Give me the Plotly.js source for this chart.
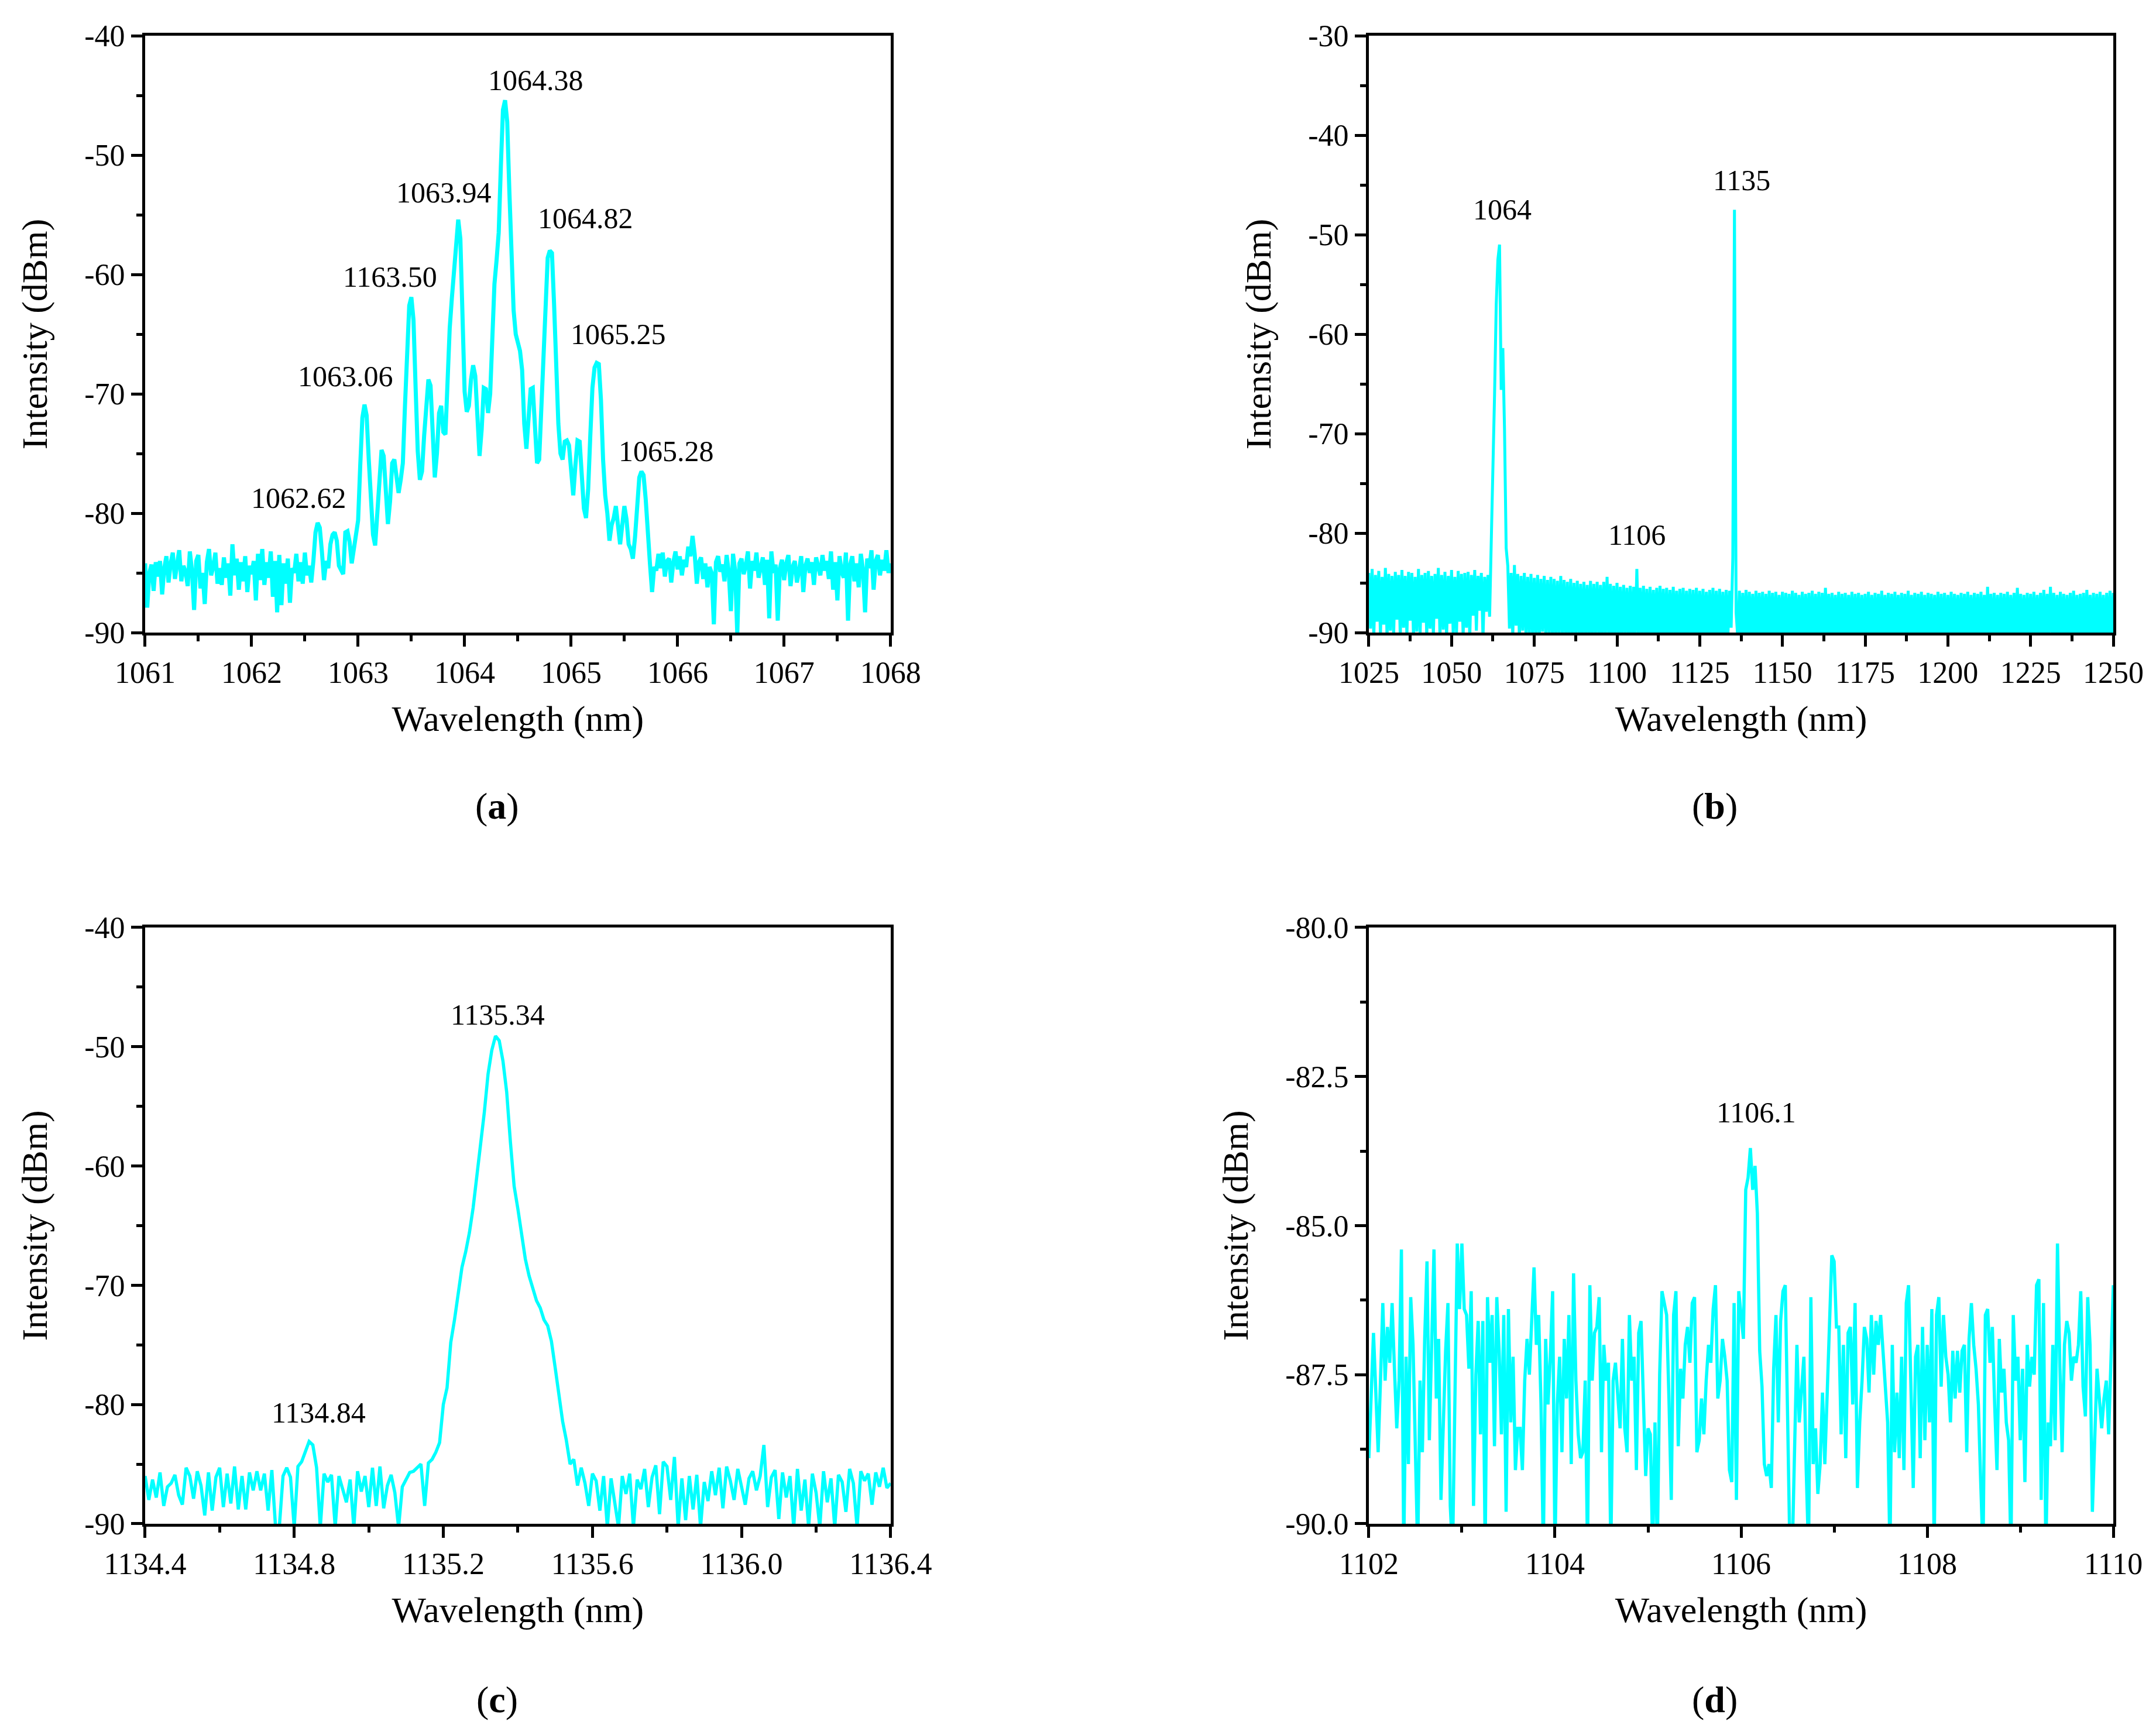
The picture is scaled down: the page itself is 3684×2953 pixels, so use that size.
<!DOCTYPE html>
<html>
<head>
<meta charset="utf-8">
<script src="https://cdn.plot.ly/plotly-3.0.1.min.js"></script>
<style>html,body{margin:0;padding:0;background:#fff;}#chart{width:3684px;height:2953px;}</style>
</head>
<body>
<div id="chart"></div>
<script>
// ---------------- DATA ----------------
// (a) 1061–1068 nm, sampled every 0.02 nm
const aStart = 1061.0, aStep = 0.02;
const aIntensity = [
-84.2,-87.9,-85.0,-84.3,-86.5,-84.1,-85.3,-84.0,-86.8,-84.6,-83.6,-85.8,-84.2,-83.3,-85.5,-84.0,-83.1,-85.7,-84.4,-84.9,
-86.1,-83.2,-84.8,-88.1,-84.0,-83.5,-86.3,-85.0,-87.6,-84.1,-83.0,-85.2,-84.5,-83.3,-85.9,-84.6,-86.0,-83.7,-85.4,-84.2,
-86.9,-82.6,-85.2,-83.8,-86.4,-84.1,-85.7,-83.6,-86.6,-84.4,-85.1,-84.0,-87.3,-83.4,-85.6,-83.0,-86.0,-84.1,-85.4,-83.2,
-87.0,-84.0,-88.3,-83.5,-87.7,-84.2,-85.9,-83.8,-87.5,-84.6,-85.0,-83.4,-85.7,-84.1,-85.9,-83.3,-85.2,-84.4,-85.8,
-84.0,-81.6,-80.8,-81.2,-83.2,-85.6,-84.0,-84.6,-82.6,-81.8,-81.6,-82.3,-84.4,-84.8,-85.1,-81.6,-81.5,-82.4,-84.2,-83.0,
-81.9,-80.6,-76.0,-72.0,-70.9,-71.8,-75.5,-79.5,-81.8,-82.7,-80.0,-76.6,-74.7,-75.2,-78.5,-80.9,-79.0,-75.8,-75.5,-77.0,
-78.3,-77.2,-75.8,-71.0,-66.0,-62.6,-61.9,-63.8,-69.5,-74.8,-77.2,-76.5,-73.5,-70.5,-68.8,-69.3,-73.5,-77.0,-75.0,-71.6,
-71.0,-73.2,-73.4,-68.5,-64.5,-62.0,-59.8,-56.6,-55.4,-57.0,-64.5,-69.8,-71.5,-71.0,-68.8,-67.6,-68.5,-72.8,-75.2,-73.0,
-69.5,-69.6,-71.6,-70.0,-64.0,-60.8,-58.8,-56.5,-51.0,-46.2,-45.4,-47.2,-53.0,-59.0,-63.0,-65.0,-65.6,-66.4,-68.0,-72.5,
-74.6,-72.0,-69.6,-69.5,-72.5,-75.8,-75.5,-71.0,-65.5,-61.2,-58.6,-58.0,-58.2,-62.5,-68.0,-72.5,-75.0,-75.5,-74.0,-73.9,
-74.3,-77.0,-78.5,-76.0,-73.9,-74.0,-76.5,-79.6,-80.4,-78.0,-73.5,-69.5,-67.8,-67.4,-67.5,-70.5,-75.5,-78.5,-80.0,-82.3,
-81.0,-80.4,-79.4,-80.8,-82.6,-81.0,-79.4,-80.5,-82.6,-83.0,-83.8,-82.0,-79.0,-77.0,-76.5,-76.8,-78.8,-82.0,-84.2,-86.6,
-84.5,
-84.8,-83.4,-84.6,-83.3,-85.3,-84.0,-83.8,-85.8,-84.1,-83.2,-84.7,-83.6,-85.2,-83.9,-84.5,-82.8,-83.6,-81.9,-83.4,-85.9,
-84.1,-83.7,-85.5,-84.2,-86.2,-84.5,-85.0,-89.3,-84.1,-83.6,-84.9,-84.3,-85.7,-83.5,-84.9,-88.2,-83.4,-84.8,-90.1,-84.2,
-83.8,-85.1,-84.4,-83.2,-86.3,-84.0,-84.8,-83.3,-85.4,-84.6,-83.7,-86.0,-83.9,-88.8,-83.2,-85.0,-84.3,-89.0,-84.6,-83.9,
-85.6,-84.2,-83.5,-86.1,-84.5,-84.0,-85.8,-84.8,-83.6,-86.6,-84.4,-83.8,-85.0,-84.1,-86.0,-83.7,-84.6,-85.2,-83.5,-84.8,
-84.0,-85.5,-83.2,-86.4,-84.1,-87.3,-83.6,-84.9,-85.4,-83.3,-89.0,-84.3,-83.6,-85.7,-84.2,-86.2,-83.4,-84.7,-88.3,-83.8,
-84.6,-83.1,-86.4,-84.0,-83.5,-85.2,-83.9,-84.8,-83.1,-85.0,-84.2
];

// (b) 1025–1250 nm, sampled every 0.5 nm
const bStart = 1025.0, bStep = 0.5;
const bIntensity = [
-84.0,-89.6,-83.6,-90.4,-84.2,-88.9,-83.8,-90.3,-84.4,-89.2,-83.5,-90.5,-84.1,-89.8,-84.3,-90.2,-83.9,-88.7,-84.2,-90.4,
-83.7,-89.5,-84.3,-90.3,-83.9,-88.8,-84.0,-90.5,-84.4,-89.9,-83.6,-90.2,-84.2,-89.0,-84.0,-90.4,-83.8,-89.6,-84.3,-90.3,
-84.1,-88.6,-83.5,-90.4,-84.2,-89.7,-83.9,-90.5,-84.3,-89.1,-83.7,-90.3,-84.4,-90.0,-83.8,-88.9,-84.1,-90.4,-84.0,-89.5,
-83.9,-90.5,-84.2,-88.3,-83.7,-89.8,-84.3,-87.8,-84.0,-90.6,-84.4,-87.9,-84.2,-88.4,-80.8,-74.0,-66.0,-57.0,-52.5,-51.0,
-65.6,-61.4,-69.5,-81.5,-83.3,-89.6,-84.0,-90.4,-83.2,-89.3,-84.1,-90.5,-84.3,-89.8,-84.0,-90.4,-84.4,-90.2,-84.1,-90.5,
-84.5,-90.3,-84.2,-90.6,-84.6,-89.9,-84.3,-90.5,-84.7,-90.2,-84.4,-90.6,-84.6,-90.4,-84.8,-90.5,-84.3,-90.3,-84.7,-90.6,
-84.9,-90.4,-84.6,-90.6,-85.0,-90.3,-84.8,-90.5,-85.1,-90.6,-84.9,-90.4,-85.2,-90.5,-84.8,-90.6,-85.1,-90.3,-84.9,-90.5,
-85.2,-90.6,-84.9,-90.4,-84.4,-90.5,-85.1,-90.6,-85.3,-90.4,-85.0,-90.5,-85.4,-90.6,-85.2,-90.3,-85.5,-90.6,-85.3,-90.5,
-85.4,-90.6,-83.6,-90.5,-85.5,-90.4,-85.3,-90.6,-85.6,-90.5,-85.4,-90.6,-85.7,-90.4,-85.5,-90.6,-85.3,-90.5,-85.6,-90.6,
-85.5,-90.5,-85.7,-90.6,-85.4,-90.4,-85.8,-90.6,-85.6,-90.5,-85.5,-90.6,-85.8,-90.4,-85.6,-90.6,-85.7,-90.5,-85.5,-90.6,
-85.8,-90.5,-85.6,-90.6,-85.9,-90.4,-85.7,-90.6,-85.5,-90.5,-85.8,-90.6,-85.6,-90.4,-85.9,-90.6,-85.7,-90.5,-85.8,-89.5,
-82.5,-47.5,-88.0,-90.5,-85.8,-90.6,-86.0,-90.4,-85.7,-90.6,-85.9,-90.5,-86.1,-90.6,-85.8,-90.4,-86.0,-90.6,-85.9,-90.5,
-86.1,-90.6,-85.8,-90.4,-86.0,-90.6,-85.9,-90.5,-86.2,-90.6,-85.9,-90.4,-86.0,-90.6,-86.1,-90.5,-85.8,-90.6,-86.0,-90.4,
-86.2,-90.6,-85.9,-90.5,-86.1,-90.6,-86.0,-90.4,-85.8,-90.6,-86.1,-90.5,-85.9,-90.6,-86.0,-90.4,-85.5,-90.6,-86.1,-90.5,
-86.0,-90.6,-86.2,-90.4,-85.9,-90.6,-86.1,-90.5,-86.0,-90.6,-86.2,-90.4,-85.9,-90.6,-86.1,-90.5,-86.0,-90.6,-86.2,-90.4,
-86.1,-90.6,-85.9,-90.5,-86.2,-90.6,-86.0,-90.4,-86.1,-90.6,-85.8,-90.5,-86.2,-90.6,-86.0,-90.4,-86.1,-90.6,-85.9,-90.5,
-86.2,-90.6,-86.0,-90.4,-86.1,-90.6,-85.8,-90.5,-86.2,-90.6,-86.0,-90.4,-86.1,-90.6,-85.9,-90.5,-86.2,-90.6,-86.0,-90.4,
-86.1,-90.6,-86.2,-90.5,-85.9,-90.6,-86.1,-90.4,-86.0,-90.6,-86.2,-90.5,-85.9,-90.6,-86.1,-90.4,-86.2,-90.6,-86.0,-90.5,
-86.1,-90.6,-85.9,-90.4,-86.2,-90.6,-86.0,-90.5,-86.1,-90.6,-85.9,-90.4,-86.2,-90.6,-85.4,-90.5,-86.1,-90.6,-86.0,-90.4,
-86.2,-90.6,-86.0,-90.5,-86.1,-90.6,-85.9,-90.4,-86.2,-90.6,-86.0,-90.5,-85.5,-90.6,-86.1,-90.4,-86.2,-90.6,-86.0,-90.5,
-86.1,-90.6,-85.9,-90.4,-86.2,-90.6,-86.0,-90.5,-85.7,-90.6,-86.1,-90.4,-85.4,-90.6,-86.0,-90.5,-86.2,-90.6,-85.9,-90.4,
-86.1,-90.6,-86.2,-90.5,-86.0,-90.6,-85.8,-90.4,-86.2,-90.6,-86.1,-90.5,-86.0,-90.6,-85.7,-90.4,-86.2,-90.6,-86.0,-90.5,
-86.1,-90.6,-85.9,-90.4,-86.2,-90.6,-86.0,-90.5,-85.8,-90.6,-86.0
];

// (c) 1134.4–1136.4 nm, sampled every 0.01 nm
const cStart = 1134.40, cStep = 0.01;
const cIntensity = [
-86.0,-88.0,-86.3,-87.8,-85.7,-88.5,-86.9,-86.6,-85.9,-87.6,
-88.4,-85.3,-86.0,-87.9,-85.6,-86.8,-89.3,-85.7,-88.9,-86.1,
-85.3,-88.6,-85.8,-88.3,-85.2,-88.8,-86.0,-88.8,-85.7,-87.2,
-85.6,-87.2,-85.8,-88.9,-85.5,-90.3,-90.3,-86.0,-85.3,-86.1,
-90.3,-85.2,-84.8,-84.0,-83.1,-83.4,-85.3,-90.3,-85.8,-86.5,
-85.9,-90.3,-86.0,-87.1,-88.2,-86.3,-90.3,-85.6,-87.3,-86.0,
-88.6,-85.3,-88.5,-85.2,-88.7,-86.8,-85.9,-87.4,-90.3,-86.9,
-86.3,-85.7,-85.6,-85.3,-85.0,-88.5,-84.9,-84.6,-84.0,-83.2,
-80.0,-78.6,-74.8,-72.9,-70.5,-68.5,-67.2,-65.6,-63.5,-61.0,
-58.4,-55.5,-52.3,-50.3,-49.1,-49.5,-51.2,-53.8,-58.0,-61.7,
-63.6,-65.9,-67.8,-69.2,-70.3,-71.3,-71.9,-72.9,-73.4,-74.7,
-76.9,-79.2,-81.4,-83.0,-85.0,-84.6,-86.8,-85.3,-86.6,-88.5,
-85.8,-86.4,-88.9,-86.0,-90.3,-86.2,-88.4,-90.3,-86.0,-87.5,
-85.8,-90.3,-86.3,-87.1,-85.4,-88.6,-86.1,-85.1,-89.2,-84.8,
-85.2,-88.0,-84.4,-90.3,-86.2,-89.7,-86.0,-88.8,-85.9,-90.3,
-86.5,-88.1,-85.6,-87.6,-85.3,-88.7,-85.2,-86.4,-88.0,-85.4,
-86.9,-88.4,-86.2,-85.6,-87.2,-86.0,-83.4,-88.6,-86.1,-85.5,
-89.6,-85.7,-87.8,-86.0,-90.3,-85.4,-88.9,-86.3,-90.3,-85.8,
-87.4,-90.3,-85.6,-88.2,-86.2,-90.3,-85.9,-86.5,-89.0,-85.4,
-86.6,-90.3,-85.6,-86.4,-85.8,-88.4,-85.7,-86.9,-85.3,-87.0,
-86.6
];

// (d) 1102–1110 nm, sampled every 0.025 nm
const dStart = 1102.0, dStep = 0.025;
const dIntensity = [
-88.9,-87.7,-86.8,-87.8,-88.8,-87.6,-86.3,-87.6,-86.7,-87.3,-86.3,-87.4,-88.4,-87.6,-85.4,-90.5,-87.2,-89.0,-86.2,-87.0,
-89.3,-90.5,-87.6,-88.8,-86.9,-85.6,-88.6,-87.2,-85.4,-87.9,-86.9,-89.6,-88.2,-87.1,-86.3,-89.7,-90.5,-87.6,-85.3,-86.4,
-85.3,-86.4,-86.5,-87.4,-86.1,-89.7,-87.5,-86.6,-88.5,-86.6,-90.5,-86.2,-87.3,-86.5,-88.7,-86.2,-87.1,-88.5,-86.5,-89.8,
-86.4,-88.3,-87.2,-89.1,-88.4,-88.4,-89.1,-87.6,-86.9,-87.5,-86.7,-85.7,-87.0,-86.5,-88.0,-90.5,-86.9,-88.0,-87.2,-86.1,
-90.5,-88.0,-87.2,-88.8,-86.9,-87.9,-86.5,-89.0,-85.8,-87.6,-88.5,-88.9,-88.8,-87.6,-90.5,-86.0,-87.6,-86.8,-86.7,-86.2,
-88.8,-87.0,-87.6,-87.3,-90.5,-87.6,-87.3,-87.8,-88.4,-86.9,-88.4,-88.8,-86.5,-87.6,-87.2,-89.1,-86.8,-86.6,-87.9,-89.2,
-88.4,-88.5,-90.5,-88.3,-90.5,-87.5,-86.1,-86.3,-86.5,-87.9,-89.6,-86.5,-86.1,-88.7,-87.4,-87.9,-87.0,-86.7,-87.3,-86.3,
-86.2,-88.8,-88.6,-87.9,-88.5,-87.6,-87.0,-87.3,-86.4,-86.0,-87.9,-87.6,-86.9,-87.2,-87.6,-89.1,-89.3,-86.3,-89.6,-86.1,
-86.5,-86.9,-84.4,-84.2,-83.7,-84.4,-84.0,-84.8,-87.1,-87.7,-89.0,-89.2,-89.0,-89.4,-87.4,-86.5,-88.3,-86.6,-86.1,-86.0,
-88.2,-90.5,-90.5,-88.4,-87.0,-88.3,-87.7,-87.2,-89.1,-90.5,-86.2,-89.0,-88.4,-89.5,-89.0,-87.8,-89.0,-87.7,-86.5,-85.5,
-85.6,-86.7,-86.7,-88.5,-87.0,-88.9,-86.8,-86.7,-88.0,-86.3,-89.4,-88.3,-87.6,-86.7,-86.9,-87.8,-86.5,-87.5,-86.6,-87.0,
-86.5,-87.1,-87.8,-88.3,-90.5,-87.0,-88.8,-87.8,-88.9,-87.2,-89.1,-86.3,-86.0,-87.6,-89.4,-87.2,-87.0,-88.9,-86.7,-88.6,
-87.0,-88.3,-86.4,-90.5,-86.5,-86.2,-87.7,-86.5,-87.2,-87.5,-88.3,-87.1,-87.9,-87.1,-87.8,-87.1,-87.0,-88.8,-86.9,-86.3,
-87.0,-87.4,-88.0,-89.3,-90.5,-86.5,-86.4,-87.3,-86.7,-88.0,-89.1,-86.9,-87.8,-87.4,-88.3,-88.6,-90.5,-86.5,-87.6,-87.2,
-88.6,-87.4,-89.3,-87.0,-87.7,-87.2,-87.5,-86.0,-85.9,-89.6,-86.3,-90.5,-88.3,-88.7,-87.0,-88.6,-85.3,-87.3,-88.8,-87.0,
-86.6,-86.8,-87.6,-87.2,-87.3,-87.0,-86.1,-87.7,-88.2,-86.2,-87.0,-89.8,-88.6,-87.4,-87.9,-88.4,-87.9,-87.6,-88.5,-87.1,
-86.0
];

// Peak labels (text, wavelength, intensity where the label sits)
const aLabels = ['1062.62','1063.06','1163.50','1063.94','1064.38','1064.82','1065.25','1065.28'];
const aLabelX = [1062.44, 1062.885, 1063.30, 1063.805, 1064.67, 1065.136, 1065.445, 1065.895];
const aLabelY = [-78.7, -68.5, -60.2, -53.15, -43.7, -55.3, -65.0, -74.8];
const bLabels = ['1064','1106','1135'];
const bLabelX = [1065.25, 1106.1, 1137.7];
const bLabelY = [-47.45, -80.2, -44.5];
const cLabels = ['1134.84','1135.34'];
const cLabelX = [1134.865, 1135.346];
const cLabelY = [-80.7, -47.3];
const dLabels = ['1106.1'];
const dLabelX = [1106.166];
const dLabelY = [-83.1];

// Tick labels
const aXTicks = [1061,1062,1063,1064,1065,1066,1067,1068];
const aXText = ['1061','1062','1063','1064','1065','1066','1067','1068'];
const aXMinor = [1061.5,1062.5,1063.5,1064.5,1065.5,1066.5,1067.5];
const acYTicks = [-90,-80,-70,-60,-50,-40];
const acYText = ['-90','-80','-70','-60','-50','-40'];
const acYMinor = [-85,-75,-65,-55,-45];
const bXTicks = [1025,1050,1075,1100,1125,1150,1175,1200,1225,1250];
const bXText = ['1025','1050','1075','1100','1125','1150','1175','1200','1225','1250'];
const bXMinor = [1037.5,1062.5,1087.5,1112.5,1137.5,1162.5,1187.5,1212.5,1237.5];
const bYTicks = [-90,-80,-70,-60,-50,-40,-30];
const bYText = ['-90','-80','-70','-60','-50','-40','-30'];
const bYMinor = [-85,-75,-65,-55,-45,-35];
const cXTicks = [1134.4,1134.8,1135.2,1135.6,1136.0,1136.4];
const cXText = ['1134.4','1134.8','1135.2','1135.6','1136.0','1136.4'];
const cXMinor = [1134.6,1135.0,1135.4,1135.8,1136.2];
const dXTicks = [1102,1104,1106,1108,1110];
const dXText = ['1102','1104','1106','1108','1110'];
const dXMinor = [1103,1105,1107,1109];
const dYTicks = [-90,-87.5,-85,-82.5,-80];
const dYText = ['-90.0','-87.5','-85.0','-82.5','-80.0'];
const dYMinor = [-88.75,-86.25,-83.75,-81.25];

const panelTags = ['(<b>a</b>)','(<b>b</b>)','(<b>c</b>)','(<b>d</b>)'];

// ---------------- BUILD ----------------
function grid(start, step, ys) { return ys.map((_, i) => +(start + i * step).toFixed(4)); }

const FONT = 'Liberation Serif, Times New Roman, serif';
const CYAN = '#00FFFF';

function trace(start, step, ys, xa, ya, w) {
  return { x: grid(start, step, ys), y: ys, xaxis: xa, yaxis: ya, type: 'scatter', mode: 'lines',
    line: { color: CYAN, width: w }, hoverinfo: 'skip', showlegend: false };
}

const data = [
  trace(aStart, aStep, aIntensity, 'x', 'y', 7),
  trace(bStart, bStep, bIntensity, 'x2', 'y2', 5),
  trace(cStart, cStep, cIntensity, 'x3', 'y3', 5.5),
  trace(dStart, dStep, dIntensity, 'x4', 'y4', 5.5)
];

function xAxis(domain, range, tv, tt, minor, anchor) {
  return { domain: domain, range: range, anchor: anchor, tickmode: 'array', tickvals: tv, ticktext: tt,
    ticks: 'outside', ticklen: 19, tickwidth: 5, tickcolor: '#000',
    minor: { tickmode: 'array', tickvals: minor, ticks: 'outside', ticklen: 10, tickwidth: 5, tickcolor: '#000', showgrid: false },
    showline: true, linewidth: 5, linecolor: '#000', mirror: true, showgrid: false, zeroline: false,
    tickfont: { family: FONT, size: 52, color: '#000' },
    title: { text: 'Wavelength (nm)', font: { family: FONT, size: 62, color: '#000' }, standoff: 30 },
    automargin: false, fixedrange: true };
}
function yAxis(domain, range, tv, tt, minor, anchor) {
  return { domain: domain, range: range, anchor: anchor, tickmode: 'array', tickvals: tv, ticktext: tt,
    ticks: 'outside', ticklen: 19, tickwidth: 5, tickcolor: '#000',
    minor: { tickmode: 'array', tickvals: minor, ticks: 'outside', ticklen: 10, tickwidth: 5, tickcolor: '#000', showgrid: false },
    showline: true, linewidth: 5, linecolor: '#000', mirror: true, showgrid: false, zeroline: false,
    tickfont: { family: FONT, size: 52, color: '#000' },
    title: { text: 'Intensity (dBm)', font: { family: FONT, size: 62, color: '#000' }, standoff: 45 },
    automargin: false, fixedrange: true };
}

const colL = [0.0673, 0.4131], colR = [0.6349, 0.9802];
const rowT = [0.6339, 0.9793], rowB = [0.1182, 0.4633];

function labelAnns(texts, xs, ys, xr, yr) {
  return texts.map((t, i) => ({ text: t, x: xs[i], y: ys[i], xref: xr, yref: yr, showarrow: false,
    xanchor: 'center', yanchor: 'middle', font: { family: FONT, size: 50, color: '#000' } }));
}

const tagPos = [[0.2307, 0.5334], [0.7953, 0.5334], [0.2307, 0.0163], [0.7953, 0.0163]];
const tagAnns = panelTags.map((t, i) => ({ text: t, x: tagPos[i][0], y: tagPos[i][1], xref: 'paper', yref: 'paper',
  showarrow: false, xanchor: 'center', yanchor: 'middle', font: { family: FONT, size: 64, color: '#000' } }));

const layout = {
  width: 3684, height: 2953, margin: { l: 0, r: 0, t: 0, b: 0 },
  paper_bgcolor: '#fff', plot_bgcolor: '#fff', showlegend: false,
  font: { family: FONT, color: '#000' },
  xaxis: xAxis(colL, [1061, 1068], aXTicks, aXText, aXMinor, 'y'),
  yaxis: yAxis(rowT, [-90, -40], acYTicks, acYText, acYMinor, 'x'),
  xaxis2: xAxis(colR, [1025, 1250], bXTicks, bXText, bXMinor, 'y2'),
  yaxis2: yAxis(rowT, [-90, -30], bYTicks, bYText, bYMinor, 'x2'),
  xaxis3: xAxis(colL, [1134.4, 1136.4], cXTicks, cXText, cXMinor, 'y3'),
  yaxis3: yAxis(rowB, [-90, -40], acYTicks, acYText, acYMinor, 'x3'),
  xaxis4: xAxis(colR, [1102, 1110], dXTicks, dXText, dXMinor, 'y4'),
  yaxis4: yAxis(rowB, [-90, -80], dYTicks, dYText, dYMinor, 'x4'),
  annotations: [].concat(
    labelAnns(aLabels, aLabelX, aLabelY, 'x', 'y'),
    labelAnns(bLabels, bLabelX, bLabelY, 'x2', 'y2'),
    labelAnns(cLabels, cLabelX, cLabelY, 'x3', 'y3'),
    labelAnns(dLabels, dLabelX, dLabelY, 'x4', 'y4'),
    tagAnns)
};

Plotly.newPlot('chart', data, layout, { staticPlot: true, displayModeBar: false });
</script>
</body>
</html>
